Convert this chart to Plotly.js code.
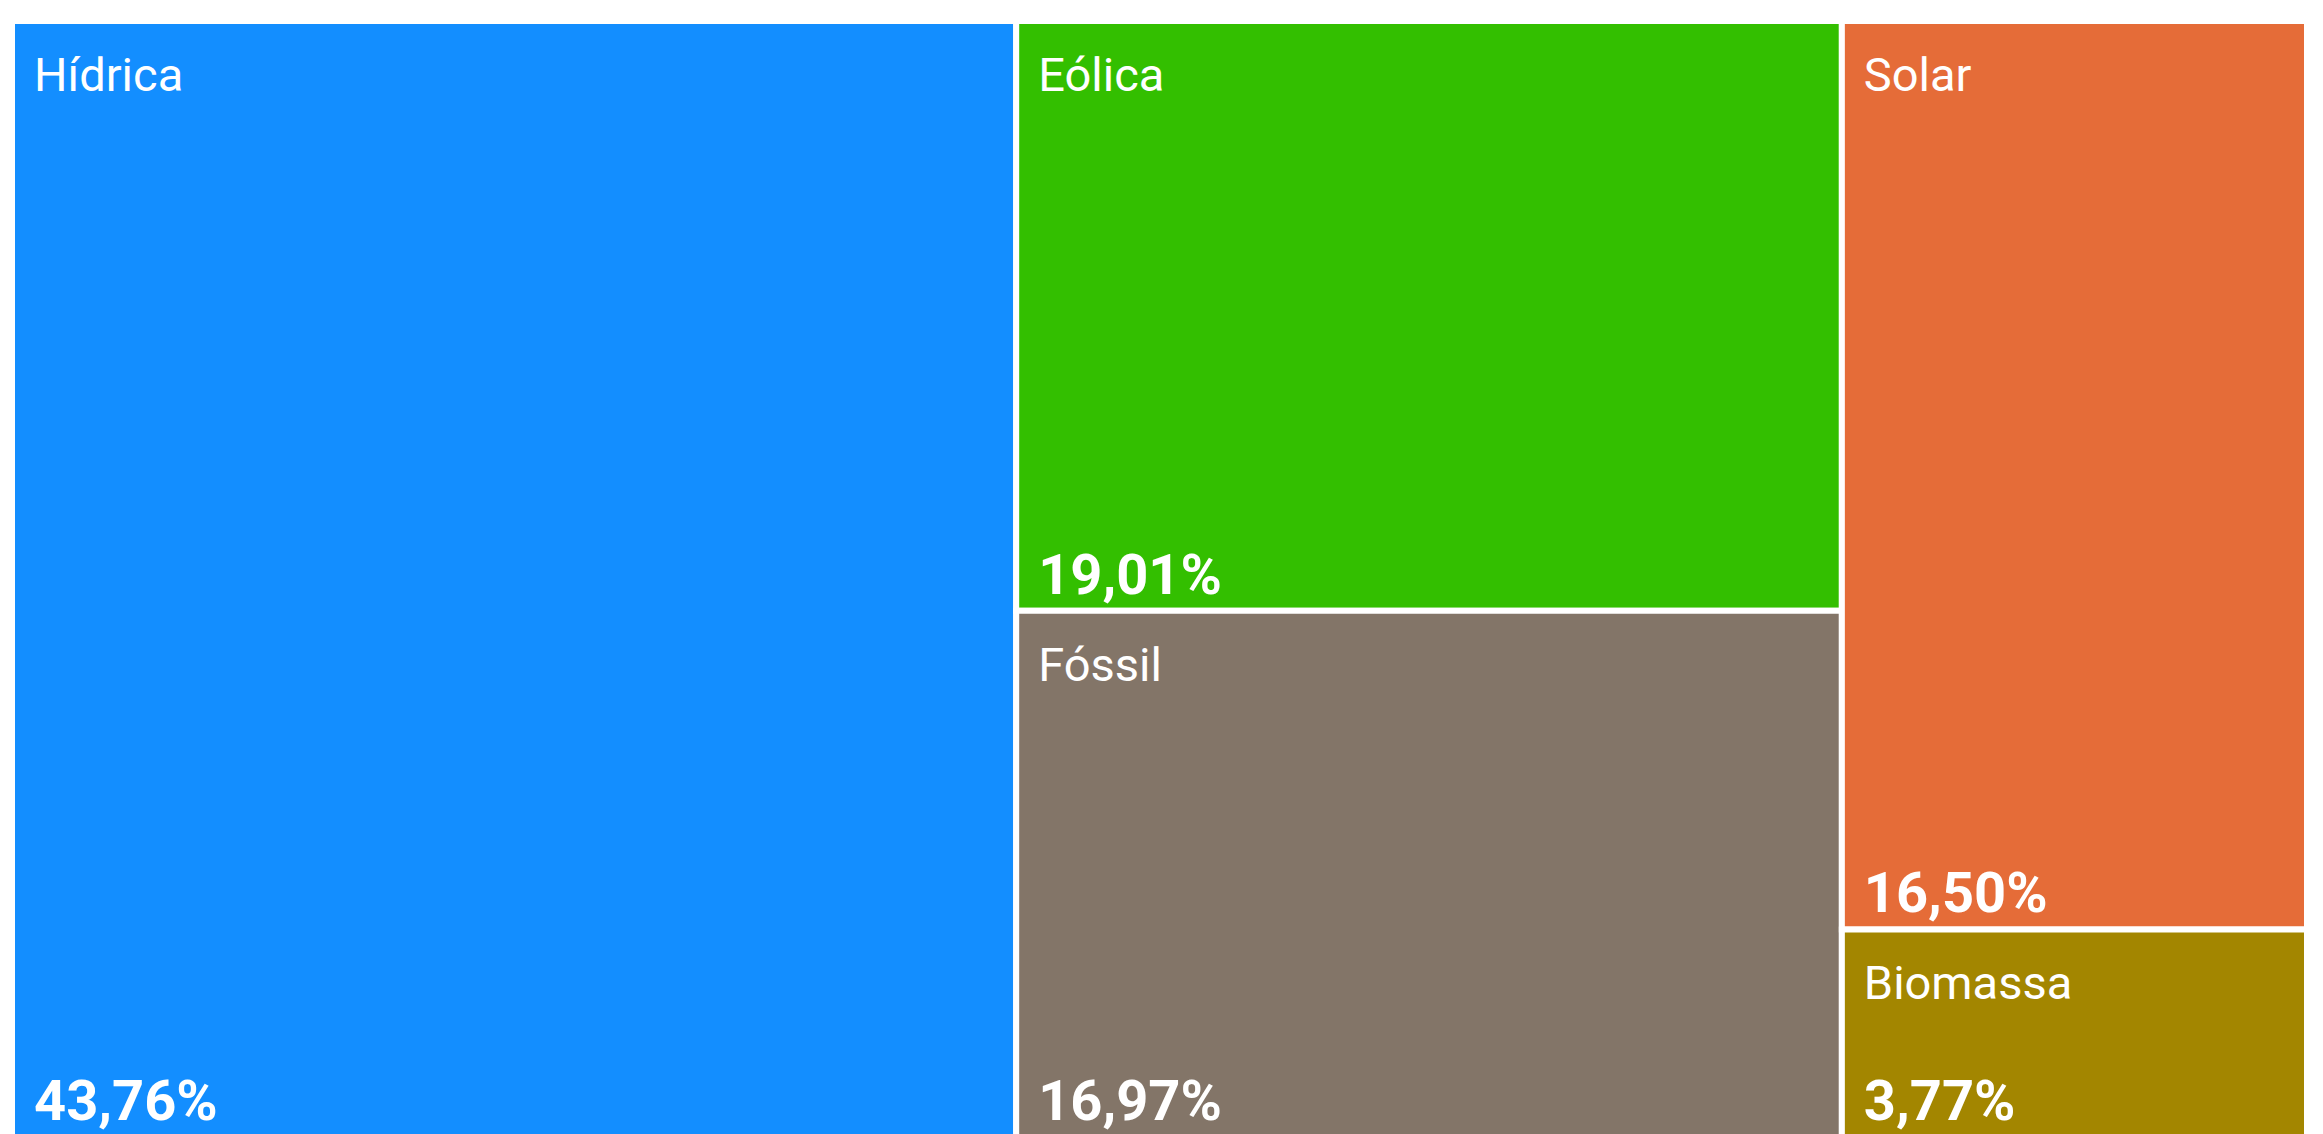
<!DOCTYPE html>
<html>
<head>
<meta charset="utf-8">
<script src="https://cdn.plot.ly/plotly-3.0.1.min.js"></script>
<style>html,body{margin:0;padding:0;overflow:hidden;background:#fff;}#chart{width:2340px;height:1160px;}</style>
</head>
<body>
<div id="chart"></div>
<script>
const labels = ["Hídrica", "Eólica", "Fóssil", "Solar", "Biomassa"];
const parents = ["", "", "", "", ""];
const values = [43.76, 19.01, 16.97, 16.50, 3.77];
const colors = ["#138EFF", "#33BF00", "#837568", "#E56C38", "#A38600"];

const fontFamily = "Roboto, 'DejaVu Sans', sans-serif";

// plot area geometry (pixels)
const W = 2328, H = 1139;          // plot area size
const mapW = 2295, mapH = 1116;    // treemap size
const dx = 19, dy = 23;            // text inset

const base = {
  type: "treemap",
  labels: labels,
  parents: parents,
  values: values,
  sort: true,
  tiling: {packing: "squarify", squarifyratio: 1, pad: 0},
  pathbar: {visible: false}
};

const traceRects = Object.assign({}, base, {
  domain: {x: [0, mapW / W], y: [(H - mapH) / H, 1]},
  marker: {colors: colors, line: {width: 6, color: "#ffffff"}, pad: {t: 0, l: 0, r: 0, b: 0}},
  texttemplate: " ",
  textinfo: "none",
  hoverinfo: "label+value"
});

const traceLabels = Object.assign({}, base, {
  domain: {x: [dx / W, (dx + mapW) / W], y: [(H - mapH - dy) / H, (H - dy) / H]},
  marker: {colors: labels.map(() => "rgba(0,0,0,0)"), line: {width: 0, color: "rgba(0,0,0,0)"}, pad: {t: 0, l: 0, r: 0, b: 0}},
  texttemplate: "%{label}",
  textposition: "top left",
  textfont: {family: fontFamily, size: 47, color: "#ffffff"},
  hoverinfo: "skip"
});

const traceValues = Object.assign({}, base, {
  domain: {x: [dx / W, (dx + mapW) / W], y: [(H - mapH) / H, 1]},
  marker: {colors: labels.map(() => "rgba(0,0,0,0)"), line: {width: 0, color: "rgba(0,0,0,0)"}, pad: {t: 0, l: 0, r: 0, b: 0}},
  texttemplate: "<b>%{value:.2f}%</b>",
  textposition: "bottom left",
  textfont: {family: fontFamily, size: 56, color: "#ffffff"},
  hoverinfo: "skip"
});

const layout = {
  width: 2340,
  height: 1160,
  margin: {l: 12, r: 0, t: 21, b: 0, pad: 0},
  paper_bgcolor: "#ffffff",
  separators: ",.",
  showlegend: false
};

Plotly.newPlot("chart", [traceRects, traceLabels, traceValues], layout, {displayModeBar: false, staticPlot: true});
</script>
</body>
</html>
